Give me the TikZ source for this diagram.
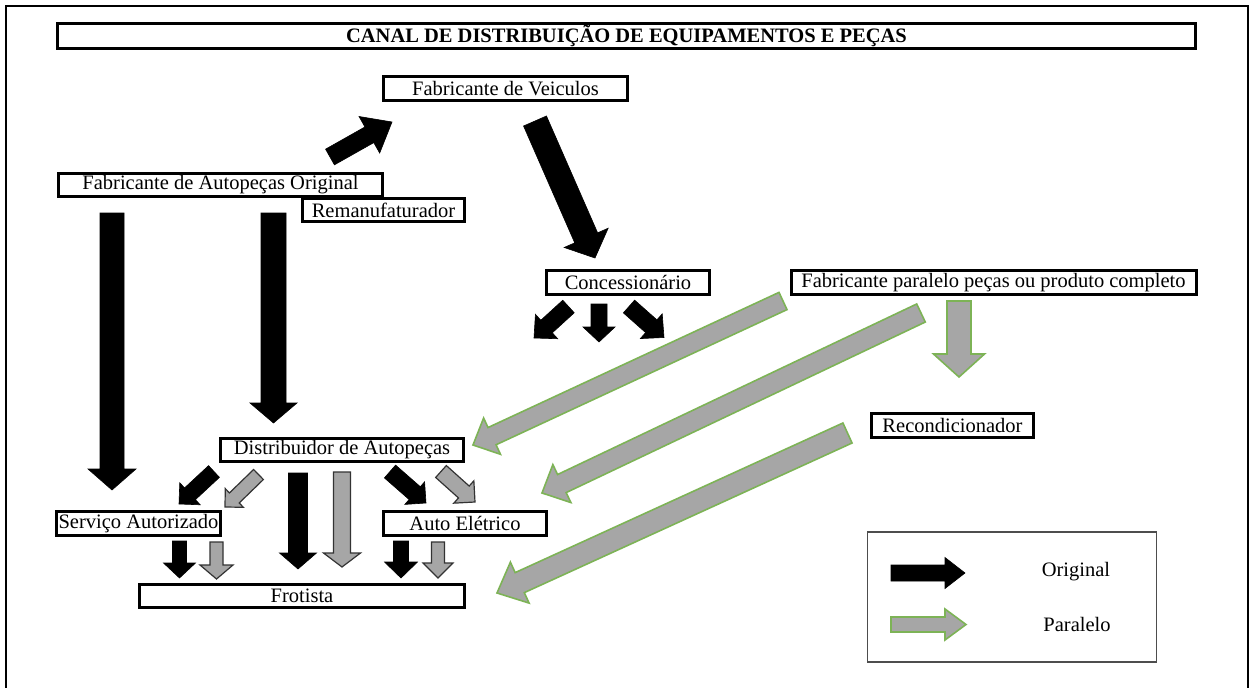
\documentclass[tikz,border=0pt]{standalone}
\usepackage{fontspec}
\setmainfont{Liberation Serif}
\usetikzlibrary{calc}
\definecolor{parfill}{HTML}{A6A6A6}
\definecolor{paredge}{HTML}{7DB356}
\definecolor{legedge}{HTML}{4D4D4D}

% Block arrow: #1 style, #2 tail, #3 tip, #4 half shaft width,
% #5 half head width, #6 head length
\newcommand{\blkarrow}[6]{%
  \coordinate (hb) at ($(#3)!#6!(#2)$);
  \path[#1] ($(#2)!#4!90:(#3)$) -- ($(hb)!#4!90:(#3)$) -- ($(hb)!#5!90:(#3)$)
    -- (#3) -- ($(hb)!#5!-90:(#3)$) -- ($(hb)!#4!-90:(#3)$)
    -- ($(#2)!#4!-90:(#3)$) -- cycle;
}

\begin{document}
\begin{tikzpicture}[x=1pt,y=-1pt,
  box/.style={draw, line width=3pt, inner sep=0pt,
    font=\fontsize{20.5}{24}\selectfont},
  legtext/.style={inner sep=0pt, font=\fontsize{20.5}{24}\selectfont},
  orig/.style={fill=black, draw=black, line width=0.6pt, line join=miter},
  para/.style={fill=parfill, draw=paredge, line width=1.6pt, line join=miter},
  parasmall/.style={fill=parfill, draw=black!80, line width=1.2pt, line join=miter}]
\useasboundingbox (0,0) rectangle (1254,688);

% page frame (open at the bottom)
\draw[line width=2pt] (6,688) -- (6,6) -- (1248,6) -- (1248,688);

% boxes
\node[box, minimum width=1138pt, minimum height=25pt, font=\fontsize{20.5}{24}\selectfont\bfseries]
  (title) at (626.5,36) {CANAL DE DISTRIBUIÇÃO DE EQUIPAMENTOS E PEÇAS};
\node[box, minimum width=244pt, minimum height=24pt] (fabv) at (505.5,88.5) {Fabricante de Veiculos};
\node[box, minimum width=324pt, minimum height=23pt] (fabao) at (220.5,185) {Fabricante de Autopeças Original};
\node[box, minimum width=162pt, minimum height=23pt, fill=white] (reman) at (383.5,210) {Remanufaturador};
\node[box, minimum width=163pt, minimum height=24pt] (conc) at (628,282.5) {Concessionário};
\node[box, minimum width=405pt, minimum height=24pt] (fabpar) at (993.5,282.5) {Fabricante paralelo peças ou produto completo};
\node[box, minimum width=162pt, minimum height=24pt] (recond) at (952.5,425.5) {Recondicionador};
\node[box, minimum width=243pt, minimum height=23pt] (dist) at (342,450) {Distribuidor de Autopeças};
\node[box, minimum width=164pt, minimum height=24pt] (serv) at (138.5,523.5) {Serviço Autorizado};
\node[box, minimum width=163pt, minimum height=24pt] (auto) at (465,523.5) {Auto Elétrico};
\node[box, minimum width=325pt, minimum height=23pt] (frot) at (302,596) {Frotista};

% legend
\node[draw=legedge, line width=1.5pt, minimum width=289pt, minimum height=130pt, inner sep=0pt]
  (legend) at (1012,597) {};
\node[legtext] (lorig) at (1076,572) {Original};
\node[legtext] (lpara) at (1077,624) {Paralelo};

% arrow end points
\coordinate (a1s) at (330,157);    \coordinate (a1e) at (392,122);
\coordinate (a2s) at (535,121);    \coordinate (a2e) at (595,258);
\coordinate (a3s) at (112,213);    \coordinate (a3e) at (112,490);
\coordinate (a4s) at (273.5,213);  \coordinate (a4e) at (273.5,423);
\coordinate (a5s) at (568.5,306.5);\coordinate (a5e) at (534,338);
\coordinate (a6s) at (599,304);    \coordinate (a6e) at (599,342);
\coordinate (a7s) at (629,306.5);  \coordinate (a7e) at (664,337.5);
\coordinate (a8s) at (214,471.5);  \coordinate (a8e) at (179,504);
\coordinate (a9s) at (258.5,474.5);\coordinate (a9e) at (225,507);
\coordinate (a10s) at (298,473);   \coordinate (a10e) at (298,569);
\coordinate (a11s) at (342,472);   \coordinate (a11e) at (342,567);
\coordinate (a12s) at (390,471.5); \coordinate (a12e) at (426,503);
\coordinate (a13s) at (441,471.5); \coordinate (a13e) at (475,502);
\coordinate (a14s) at (179.5,541); \coordinate (a14e) at (179.5,578);
\coordinate (a15s) at (216.5,542); \coordinate (a15e) at (216.5,579);
\coordinate (a16s) at (401,541);   \coordinate (a16e) at (401,578);
\coordinate (a17s) at (438,542);   \coordinate (a17e) at (438,578);
\coordinate (p1s) at (783,301);    \coordinate (p1e) at (473,445);
\coordinate (p2s) at (921,313);    \coordinate (p2e) at (542,493);
\coordinate (p3s) at (847.5,433);  \coordinate (p3e) at (497,593);
\coordinate (p4s) at (959,301);    \coordinate (p4e) at (959,377);
\coordinate (lgs1) at (891,573);   \coordinate (lge1) at (965,573);
\coordinate (lgs2) at (891,624.5); \coordinate (lge2) at (966,624.5);

% original channel (black)
\blkarrow{orig}{a1s}{a1e}{9pt}{21pt}{26pt}
\blkarrow{orig}{a2s}{a2e}{12.5pt}{24pt}{22pt}
\blkarrow{orig}{a3s}{a3e}{12pt}{24pt}{21pt}
\blkarrow{orig}{a4s}{a4e}{12.5pt}{23.5pt}{20pt}
\blkarrow{orig}{a5s}{a5e}{8.5pt}{16.5pt}{17pt}
\blkarrow{orig}{a6s}{a6e}{8pt}{16pt}{15pt}
\blkarrow{orig}{a7s}{a7e}{8.5pt}{16.5pt}{17pt}
\blkarrow{orig}{a8s}{a8e}{8pt}{15pt}{15pt}
\blkarrow{orig}{a10s}{a10e}{9.5pt}{18.5pt}{16pt}
\blkarrow{orig}{a12s}{a12e}{8.5pt}{15pt}{15pt}
\blkarrow{orig}{a14s}{a14e}{7pt}{16pt}{15pt}
\blkarrow{orig}{a16s}{a16e}{7.5pt}{16.5pt}{16pt}

% parallel channel (grey)
\blkarrow{parasmall}{a9s}{a9e}{7pt}{13pt}{13pt}
\blkarrow{parasmall}{a11s}{a11e}{8.5pt}{18.5pt}{14pt}
\blkarrow{parasmall}{a13s}{a13e}{8pt}{15pt}{15pt}
\blkarrow{parasmall}{a15s}{a15e}{6.5pt}{16.5pt}{14pt}
\blkarrow{parasmall}{a17s}{a17e}{6.5pt}{15pt}{15pt}
\blkarrow{para}{p1s}{p1e}{9.5pt}{20pt}{21pt}
\blkarrow{para}{p2s}{p2e}{10pt}{21pt}{22pt}
\blkarrow{para}{p3s}{p3e}{11pt}{22.5pt}{25pt}
\blkarrow{para}{p4s}{p4e}{12pt}{25.5pt}{23pt}

% legend arrows
\blkarrow{orig}{lgs1}{lge1}{8pt}{15.5pt}{20pt}
\blkarrow{para}{lgs2}{lge2}{7.5pt}{15.5pt}{21pt}
\end{tikzpicture}
\end{document}
